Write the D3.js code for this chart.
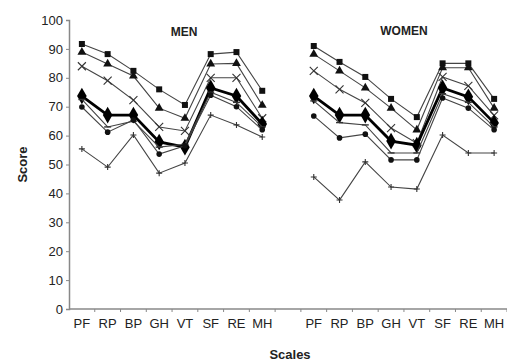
<!DOCTYPE html>
<html>
<head>
<meta charset="utf-8">
<script src="https://cdnjs.cloudflare.com/ajax/libs/d3/7.8.5/d3.min.js"></script>
<style>
  body { margin: 0; background: #fff; }
  text { font-family: "Liberation Sans", Arial, sans-serif; fill: #222; }
</style>
</head>
<body>
<div id="chart"></div>
<script>
// scales on the x axis (same for both panels)
var scales = ["PF", "RP", "BP", "GH", "VT", "SF", "RE", "MH"];
var yTicks = [0, 10, 20, 30, 40, 50, 60, 70, 80, 90, 100];

// men series
var menSquare   = [91.7, 88.2, 82.4, 76.0, 70.6, 88.2, 88.9, 75.5];
var menTriangle = [88.9, 84.8, 80.6, 69.5, 66.0, 84.8, 85.0, 70.5];
var menCross    = [84.0, 79.0, 72.3, 63.0, 61.6, 80.0, 80.0, 66.0];
var menDiamond  = [73.7, 67.1, 67.1, 57.8, 56.0, 76.5, 73.7, 64.0];
var menDash     = [72.5, 63.0, 65.0, 56.0, 57.0, 75.0, 71.5, 63.0];
var menCircle   = [69.9, 61.2, 65.4, 53.6, 56.5, 74.0, 70.0, 62.0];
var menPlus     = [55.4, 49.1, 60.2, 47.0, 50.5, 67.1, 63.7, 59.5];

// women series
var womenSquare   = [91.0, 85.5, 80.3, 72.7, 66.4, 85.0, 85.0, 72.7];
var womenTriangle = [88.2, 82.4, 76.5, 69.5, 62.0, 83.5, 83.5, 69.5];
var womenCross    = [82.4, 76.0, 71.3, 62.6, 57.4, 80.3, 77.2, 67.0];
var womenDiamond  = [73.7, 67.1, 67.1, 58.1, 56.7, 76.5, 73.4, 64.4];
var womenDash     = [72.0, 64.5, 63.7, 54.0, 54.0, 74.5, 71.5, 63.0];
var womenCircle   = [66.8, 59.2, 60.5, 51.6, 51.6, 73.0, 69.5, 62.0];
var womenPlus     = [45.7, 37.7, 50.9, 42.2, 41.5, 60.2, 54.0, 54.0];

var markers = ["square", "triangle", "cross", "diamond", "dash", "circle", "plus"];
var menSeries = [menSquare, menTriangle, menCross, menDiamond, menDash, menCircle, menPlus];
var womenSeries = [womenSquare, womenTriangle, womenCross, womenDiamond, womenDash, womenCircle, womenPlus];

var w = 507, h = 363;
var margin = {left: 69, right: 0, top: 20, bottom: 54};

var svg = d3.select("#chart").append("svg")
  .attr("width", w).attr("height", h);

// 17 slots: 8 men, a gap, 8 women
var slots = scales.map(function(s) { return "M" + s; })
  .concat(["gap"])
  .concat(scales.map(function(s) { return "W" + s; }));

var x = d3.scaleBand().domain(slots).range([margin.left, w - margin.right]);
var y = d3.scaleLinear().domain([0, 100]).range([h - margin.bottom, margin.top]);

// y axis
var yAxis = svg.append("g")
  .attr("transform", "translate(" + margin.left + ",0)")
  .call(d3.axisLeft(y).tickValues(yTicks).tickSize(3).tickPadding(3));
yAxis.select(".domain").attr("stroke", "#888").attr("stroke-width", 1.5);
yAxis.selectAll(".tick line").attr("stroke", "#888");
yAxis.selectAll(".tick text").style("font-size", "13px").attr("fill", "#222");

// x axis line with ticks between slots
var x0 = h - margin.bottom;
svg.append("line")
  .attr("x1", margin.left).attr("x2", w)
  .attr("y1", x0).attr("y2", x0)
  .attr("stroke", "#888").attr("stroke-width", 1.5);
svg.selectAll(".xtick")
  .data(slots)
  .enter().append("line")
  .attr("x1", function(d) { return x(d) + x.bandwidth(); })
  .attr("x2", function(d) { return x(d) + x.bandwidth(); })
  .attr("y1", x0).attr("y2", x0 + 3)
  .attr("stroke", "#888");

svg.selectAll(".xlab")
  .data(slots.filter(function(d) { return d !== "gap"; }))
  .enter().append("text")
  .attr("x", function(d) { return x(d) + x.bandwidth() / 2; })
  .attr("y", x0 + 19)
  .attr("text-anchor", "middle")
  .style("font-size", "13px")
  .text(function(d) { return d.slice(1); });

// axis titles
svg.append("text")
  .attr("transform", "translate(27," + (y(50)) + ") rotate(-90)")
  .attr("text-anchor", "middle")
  .style("font-size", "13px").style("font-weight", "bold")
  .text("Score");
svg.append("text")
  .attr("x", 290).attr("y", h - 4)
  .attr("text-anchor", "middle")
  .style("font-size", "13px").style("font-weight", "bold")
  .text("Scales");

// panel titles
svg.append("text")
  .attr("x", (x("MPF") + x("MMH") + x.bandwidth()) / 2 + 12).attr("y", 36)
  .attr("text-anchor", "middle")
  .style("font-size", "12px").style("font-weight", "bold")
  .text("MEN");
svg.append("text")
  .attr("x", (x("WPF") + x("WMH") + x.bandwidth()) / 2).attr("y", 35)
  .attr("text-anchor", "middle")
  .style("font-size", "12px").style("font-weight", "bold")
  .text("WOMEN");

var line = d3.line()
  .x(function(d) { return x(d.k) + x.bandwidth() / 2; })
  .y(function(d) { return y(d.v); });

function drawMarker(g, type, cx, cy) {
  if (type === "square") {
    g.append("rect").attr("x", cx - 3).attr("y", cy - 3).attr("width", 6).attr("height", 6).attr("fill", "#111");
  } else if (type === "triangle") {
    g.append("path").attr("d", d3.symbol(d3.symbolTriangle, 34)()).attr("transform", "translate(" + cx + "," + cy + ")").attr("fill", "#111");
  } else if (type === "diamond") {
    g.append("path").attr("d", d3.symbol(d3.symbolDiamond, 80)()).attr("transform", "translate(" + cx + "," + cy + ")").attr("fill", "#000");
  } else if (type === "circle") {
    g.append("circle").attr("cx", cx).attr("cy", cy).attr("r", 2.8).attr("fill", "#111");
  } else if (type === "cross") {
    g.append("path").attr("d", "M" + (cx - 4) + "," + (cy - 4) + "L" + (cx + 4) + "," + (cy + 4) + "M" + (cx - 4) + "," + (cy + 4) + "L" + (cx + 4) + "," + (cy - 4))
      .attr("stroke", "#333").attr("stroke-width", 1.1);
  } else if (type === "plus") {
    g.append("path").attr("d", "M" + (cx - 3) + "," + cy + "L" + (cx + 3) + "," + cy + "M" + cx + "," + (cy - 3) + "L" + cx + "," + (cy + 3))
      .attr("stroke", "#333").attr("stroke-width", 1.1);
  } else if (type === "dash") {
    g.append("path").attr("d", "M" + (cx - 3.5) + "," + cy + "L" + (cx + 3.5) + "," + cy)
      .attr("stroke", "#333").attr("stroke-width", 1.4);
  }
}

function drawPanel(prefix, series) {
  series.forEach(function(vals, i) {
    var pts = vals.map(function(v, j) { return {k: prefix + scales[j], v: v}; });
    var thick = markers[i] === "diamond";
    var g = svg.append("g");
    g.append("path").datum(pts)
      .attr("d", line)
      .attr("fill", "none")
      .attr("stroke", thick ? "#000" : "#444")
      .attr("stroke-width", thick ? 2.8 : 1.1);
    pts.forEach(function(p) {
      drawMarker(g, markers[i], x(p.k) + x.bandwidth() / 2, y(p.v));
    });
  });
}

// draw thin lines first, thick mean line on top
drawPanel("M", menSeries);
drawPanel("W", womenSeries);
</script>
</body>
</html>
